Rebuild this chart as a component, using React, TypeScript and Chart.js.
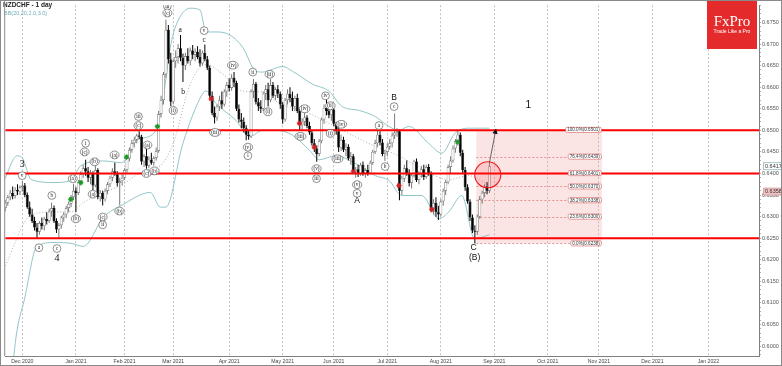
import React, { useEffect, useRef } from 'react';
import { Chart, registerables } from 'chart.js';

Chart.register(...registerables);

const SYMBOL_TITLE = 'NZDCHF - 1 day';
const INDICATOR_TITLE = 'BB(20,20,2.0,3.0)';

// Daily candles, one per trading day. Index 0 = 1 Dec 2020, first candle (index -7) = 20 Nov 2020.
// Prices are stored in 1/10000 units.
const FIRST_INDEX = -7;
const PRICE_UNIT = 10000;

const OPEN = [
  6320, 6332, 6345, 6355, 6348, 6362, 6358, 6368, 6372, 6350,
  6322, 6305, 6290, 6275, 6265, 6285, 6278, 6295, 6290, 6312,
  6320, 6290, 6270, 6280, 6298, 6305, 6320, 6330, 6345, 6360,
  6355, 6380, 6398, 6412, 6405, 6390, 6400, 6372, 6408, 6345,
  6355, 6340, 6360, 6375, 6390, 6405, 6398, 6378, 6382, 6390,
  6408, 6435, 6455, 6470, 6478, 6488, 6485, 6428, 6440, 6418,
  6432, 6425, 6436, 6452, 6538, 6570, 6630, 6733, 6664, 6566,
  6660, 6670, 6690, 6668, 6650, 6672, 6660, 6685, 6675, 6682,
  6670, 6655, 6680, 6665, 6645, 6580, 6540, 6530, 6555, 6570,
  6560, 6590, 6605, 6598, 6622, 6610, 6550, 6525, 6520, 6505,
  6490, 6486, 6590, 6608, 6565, 6555, 6550, 6585, 6595, 6570,
  6605, 6580, 6595, 6585, 6560, 6525, 6570, 6585, 6575, 6555,
  6575, 6545, 6512, 6520, 6530, 6510, 6495, 6470, 6458, 6445,
  6475, 6525, 6552, 6545, 6535, 6548, 6515, 6498, 6460, 6478,
  6455, 6462, 6435, 6440, 6405, 6410, 6398, 6420, 6400, 6408,
  6400, 6425, 6450, 6470, 6490, 6472, 6445, 6450, 6462, 6470,
  6488, 6495, 6498, 6360, 6388, 6412, 6400, 6378, 6395, 6428,
  6385, 6398, 6410, 6392, 6415, 6400, 6318, 6332, 6310, 6305,
  6335, 6360, 6380, 6415, 6430, 6458, 6475, 6490, 6448, 6408,
  6368, 6335, 6298, 6268, 6265, 6300, 6340, 6355, 6370, 6360,
];
const HIGH = [
  6338, 6350, 6362, 6370, 6368, 6375, 6372, 6383, 6378, 6356,
  6335, 6318, 6300, 6285, 6290, 6298, 6300, 6310, 6318, 6333,
  6326, 6296, 6285, 6302, 6310, 6325, 6335, 6350, 6376, 6368,
  6385, 6405, 6420, 6432, 6415, 6408, 6405, 6418, 6412, 6362,
  6360, 6365, 6380, 6395, 6412, 6425, 6405, 6390, 6398, 6412,
  6440, 6460, 6478, 6485, 6492, 6498, 6490, 6445, 6457, 6440,
  6448, 6440, 6460, 6545, 6580, 6635, 6756, 6744, 6680, 6665,
  6685, 6700, 6721, 6678, 6680, 6690, 6692, 6698, 6690, 6695,
  6688, 6685, 6699, 6672, 6650, 6590, 6555, 6560, 6580, 6590,
  6595, 6612, 6620, 6630, 6635, 6615, 6560, 6540, 6530, 6512,
  6500, 6595, 6619, 6612, 6575, 6570, 6590, 6605, 6610, 6619,
  6612, 6600, 6605, 6590, 6565, 6575, 6595, 6600, 6590, 6580,
  6585, 6550, 6528, 6540, 6535, 6520, 6500, 6480, 6465, 6480,
  6530, 6560, 6572, 6560, 6555, 6552, 6520, 6505, 6490, 6485,
  6470, 6468, 6450, 6445, 6415, 6420, 6425, 6428, 6412, 6420,
  6430, 6455, 6478, 6500, 6498, 6480, 6455, 6470, 6480, 6495,
  6539, 6505, 6502, 6395, 6420, 6430, 6410, 6400, 6432, 6435,
  6405, 6418, 6420, 6420, 6422, 6405, 6340, 6345, 6325, 6340,
  6365, 6385, 6420, 6440, 6465, 6480, 6500, 6495, 6455, 6415,
  6375, 6340, 6305, 6280, 6305, 6348, 6360, 6375, 6380, 6425,
];
const LOW = [
  6312, 6325, 6338, 6340, 6342, 6350, 6350, 6358, 6345, 6318,
  6300, 6285, 6268, 6250, 6258, 6270, 6268, 6282, 6285, 6300,
  6285, 6262, 6249, 6272, 6288, 6296, 6310, 6322, 6338, 6310,
  6350, 6372, 6390, 6395, 6380, 6375, 6361, 6368, 6340, 6335,
  6326, 6335, 6352, 6368, 6382, 6395, 6370, 6326, 6372, 6385,
  6402, 6428, 6448, 6460, 6470, 6480, 6420, 6415, 6411, 6412,
  6420, 6418, 6430, 6448, 6530, 6560, 6622, 6655, 6556, 6560,
  6645, 6655, 6660, 6612, 6640, 6655, 6650, 6665, 6660, 6665,
  6648, 6650, 6660, 6640, 6575, 6535, 6516, 6522, 6545, 6550,
  6555, 6578, 6590, 6592, 6600, 6545, 6518, 6505, 6495, 6477,
  6478, 6482, 6575, 6560, 6545, 6540, 6545, 6570, 6555, 6565,
  6575, 6570, 6575, 6550, 6515, 6520, 6560, 6565, 6545, 6545,
  6540, 6500, 6500, 6510, 6505, 6490, 6465, 6450, 6427, 6440,
  6470, 6515, 6535, 6528, 6522, 6510, 6490, 6450, 6452, 6450,
  6440, 6430, 6420, 6400, 6390, 6392, 6395, 6395, 6390, 6395,
  6398, 6420, 6445, 6462, 6465, 6440, 6429, 6440, 6455, 6460,
  6480, 6485, 6338, 6350, 6380, 6395, 6370, 6365, 6390, 6380,
  6375, 6390, 6385, 6388, 6395, 6310, 6305, 6300, 6292, 6300,
  6325, 6350, 6375, 6400, 6425, 6448, 6465, 6440, 6400, 6360,
  6330, 6290, 6262, 6238, 6258, 6295, 6330, 6345, 6352, 6355,
];
const CLOSE = [
  6332, 6345, 6355, 6348, 6362, 6358, 6368, 6372, 6350, 6322,
  6305, 6290, 6275, 6265, 6285, 6278, 6295, 6290, 6312, 6320,
  6290, 6270, 6280, 6298, 6305, 6320, 6330, 6345, 6360, 6355,
  6380, 6398, 6412, 6405, 6390, 6400, 6372, 6408, 6345, 6355,
  6340, 6360, 6375, 6390, 6405, 6398, 6378, 6382, 6390, 6408,
  6435, 6455, 6470, 6478, 6488, 6485, 6428, 6440, 6418, 6432,
  6425, 6436, 6452, 6538, 6570, 6630, 6733, 6664, 6566, 6660,
  6670, 6690, 6668, 6650, 6672, 6660, 6685, 6675, 6682, 6670,
  6655, 6680, 6665, 6645, 6580, 6540, 6530, 6555, 6570, 6560,
  6590, 6605, 6598, 6622, 6610, 6550, 6525, 6520, 6505, 6490,
  6486, 6590, 6608, 6565, 6555, 6550, 6585, 6595, 6570, 6605,
  6580, 6595, 6585, 6560, 6525, 6570, 6585, 6575, 6555, 6575,
  6545, 6512, 6520, 6530, 6510, 6495, 6470, 6458, 6445, 6475,
  6525, 6552, 6545, 6535, 6548, 6515, 6498, 6460, 6478, 6455,
  6462, 6435, 6440, 6405, 6410, 6398, 6420, 6400, 6408, 6400,
  6425, 6450, 6470, 6490, 6472, 6445, 6450, 6462, 6470, 6488,
  6495, 6498, 6360, 6388, 6412, 6400, 6378, 6395, 6428, 6385,
  6398, 6410, 6392, 6415, 6400, 6318, 6332, 6310, 6305, 6335,
  6360, 6380, 6415, 6430, 6458, 6475, 6490, 6448, 6408, 6368,
  6335, 6298, 6268, 6265, 6300, 6340, 6355, 6370, 6360, 6417,
];

// Bollinger bands (trading-day index, price)
const UPPER_IDX = [-7.5, -2.2, 0, 3.6, 13, 20, 24, 33.4, 40.8, 46.9, 55, 58, 60.8, 63.2, 69, 73, 75.5, 79.6, 85.3, 90.6, 96, 98.8, 107, 111, 119.3, 126, 131.5, 138.5, 145, 150.7, 154.8, 158.8, 167, 172.4, 177.8, 183.3, 192];
const UPPER_VAL = [0.6384, 0.6441, 0.6436, 0.6386, 0.6379, 0.6384, 0.6418, 0.6429, 0.6425, 0.6477, 0.65, 0.658, 0.6692, 0.6744, 0.6783, 0.6779, 0.6728, 0.6728, 0.6721, 0.6692, 0.6637, 0.6635, 0.6648, 0.6637, 0.6607, 0.6591, 0.6555, 0.6546, 0.6532, 0.6509, 0.65, 0.6509, 0.647, 0.6447, 0.6493, 0.6505, 0.6505];
const MID_IDX = [-7.5, 3.6, 13, 20, 25.2, 33.4, 40.4, 49.8, 56.7, 62, 69, 75.5, 82.5, 90.6, 98.8, 104, 118, 131.5, 145, 154.8, 167, 175.3, 183.4, 192];
const MID_VAL = [0.618, 0.6304, 0.6311, 0.6311, 0.6333, 0.6356, 0.6372, 0.6406, 0.6418, 0.647, 0.6607, 0.6653, 0.663, 0.6591, 0.6589, 0.6568, 0.6539, 0.65, 0.6463, 0.6441, 0.6402, 0.6386, 0.6395, 0.6372];
const LOWER_IDX = [-4.2, -2.2, 0.7, 6, 13, 20, 25, 33.4, 41, 52.6, 56.7, 59, 66, 74, 75.5, 79.6, 87.8, 93.5, 98.8, 104, 111, 118, 122.1, 128.7, 138.5, 145, 150.7, 156, 164.2, 171.2, 175.3, 180.6, 185.9, 192];
const LOWER_VAL = [0.5945, 0.6037, 0.6105, 0.6231, 0.624, 0.6238, 0.6231, 0.6299, 0.6327, 0.6356, 0.6322, 0.6322, 0.647, 0.6584, 0.6591, 0.6562, 0.6523, 0.6486, 0.65, 0.65, 0.6489, 0.6454, 0.6432, 0.6441, 0.6418, 0.6395, 0.6384, 0.6349, 0.6349, 0.6295, 0.6311, 0.6349, 0.6249, 0.6258];

// Horizontal support / resistance levels
const LEVEL_LINES = [0.65, 0.64, 0.625];

// Fibonacci retracement box
const FIB_START = 186.6;
const FIB_END = 238.2;
const FIB_PRICES = [0.6238, 0.63, 0.6338, 0.637, 0.6401, 0.6439, 0.6501];
const FIB_TEXT = ['0.0%(0.6238)', '23.6%(0.6300)', '38.2%(0.6338)', '50.0%(0.6370)', '61.8%(0.6401)', '76.4%(0.6439)', '100.0%(0.6501)'];

// Highlight circle and projection arrow (trading-day index, price)
const CIRCLE_AT = [191.3, 0.6397];
const ARROW_FROM = [192, 0.6425];
const ARROW_TO = [194.6, 0.6501];

// Price tags on the right axis
const PRICE_TAGS = [0.6417, 0.6358];

// Signal markers
const GREEN_IDX = [19.9, 24, 42.8, 55.5, 178.9];
const GREEN_VAL = [0.634, 0.6379, 0.6438, 0.6509, 0.6473];
const RED_IDX = [77.6, 113.9, 120, 136, 154.8, 168.3];
const RED_VAL = [0.6573, 0.6516, 0.6461, 0.6404, 0.6372, 0.6317];

// Wave labels
const PLAIN_TEXT = ['3', '4', 'a', 'b', 'c', 'A', 'B', 'C', '(B)', '1'];
const PLAIN_IDX = [-0.1, 14.2, 64.9, 66.1, 74.7, 137.6, 152.8, 185.5, 185.9, 208];
const PLAIN_VAL = [0.642, 0.6203, 0.6733, 0.6589, 0.671, 0.6336, 0.6575, 0.6228, 0.6205, 0.6557];

const CIRCLED_TEXT = ['v', 'a', 'b', 'c', '(a)', '(b)', 'i', '(c)', '(b)', '(a)', '(c)', 'ii', '(a)', '(b)', 'iii', '(c)', '(a)', '(c)', '(b)', 'iii', '(c)', '(i)', 'v', '(iii)', '(iv)', '(v)', 'i', 'ii', '(ii)', '(i)', '(iv)', '(iii)', '(v)', 'iii', 'iv', '(ii)', '(i)', '(iv)', '(iii)', '(v)', 'v', 'a', 'b', 'c'];
const CIRCLED_IDX = [-0.1, 6.8, 12.1, 14.2, 20.7, 22, 26, 25.6, 29.7, 28.9, 33, 33, 37.9, 39.9, 47.7, 47.7, 51.4, 51, 54.3, 59.6, 59.6, 62, 74.7, 79.2, 86.5, 92.7, 92.7, 94.7, 101.7, 100.9, 116, 114.3, 120.9, 120.9, 124.6, 126.6, 126.6, 131.1, 129.5, 137.6, 137.6, 146.6, 149.1, 152.8];
const CIRCLED_VAL = [0.6395, 0.6228, 0.6349, 0.6226, 0.6388, 0.6295, 0.647, 0.645, 0.6427, 0.6352, 0.6299, 0.6281, 0.6443, 0.6313, 0.6532, 0.6511, 0.6466, 0.64, 0.6406, 0.6788, 0.6772, 0.6546, 0.6731, 0.6495, 0.6651, 0.6461, 0.6441, 0.6635, 0.663, 0.6543, 0.655, 0.6486, 0.6411, 0.6388, 0.658, 0.6557, 0.6493, 0.6514, 0.6434, 0.6374, 0.6354, 0.6511, 0.6416, 0.6555];

// Axis ranges
const X_MIN = -7.07;
const X_MAX = 302.8;
const Y_MIN = 0.5977;
const Y_MAX = 0.679;

const MONTH_NAMES = ['Jan', 'Feb', 'Mar', 'Apr', 'May', 'Jun', 'Jul', 'Aug', 'Sep', 'Oct', 'Nov', 'Dec'];

function buildMonthTicks(): { idx: number; label: string }[] {
  const res: { idx: number; label: string }[] = [];
  const d = new Date(Date.UTC(2020, 10, 20));
  let idx = FIRST_INDEX;
  let prevMonth = d.getUTCMonth();
  while (idx <= X_MAX) {
    const dow = d.getUTCDay();
    const m = d.getUTCMonth();
    const day = d.getUTCDate();
    const trading = dow !== 0 && dow !== 6 && !(m === 11 && day === 25) && !(m === 0 && day === 1);
    if (trading) {
      if (m !== prevMonth) {
        res.push({ idx, label: `${MONTH_NAMES[m]} ${d.getUTCFullYear()}` });
        prevMonth = m;
      }
      idx++;
    }
    d.setUTCDate(d.getUTCDate() + 1);
  }
  return res;
}

const MONTH_TICKS = buildMonthTicks();

const SANS = '"Liberation Sans", Arial, sans-serif';
const SERIF = '"Liberation Serif", "Times New Roman", serif';

const overlayPlugin = {
  id: 'overlay',
  beforeDatasetsDraw(chart: any) {
    const { ctx, chartArea, scales } = chart;
    const x = scales.x;
    const y = scales.y;
    ctx.save();
    ctx.beginPath();
    ctx.rect(chartArea.left, chartArea.top, chartArea.right - chartArea.left, chartArea.bottom - chartArea.top);
    ctx.clip();
    const x0 = x.getPixelForValue(FIB_START);
    const x1 = x.getPixelForValue(FIB_END);
    const yTop = y.getPixelForValue(FIB_PRICES[FIB_PRICES.length - 1]);
    const yBot = y.getPixelForValue(FIB_PRICES[0]);
    ctx.fillStyle = 'rgba(236, 150, 150, 0.26)';
    ctx.fillRect(x0, yTop, x1 - x0, yBot - yTop);
    ctx.strokeStyle = 'rgba(215, 90, 90, 0.75)';
    ctx.lineWidth = 0.8;
    ctx.setLineDash([2, 2]);
    FIB_PRICES.forEach((p) => {
      const py = Math.round(y.getPixelForValue(p)) + 0.5;
      ctx.beginPath();
      ctx.moveTo(x0, py);
      ctx.lineTo(x1, py);
      ctx.stroke();
    });
    ctx.restore();
  },
  afterDatasetsDraw(chart: any) {
    const { ctx, chartArea, scales } = chart;
    const x = scales.x;
    const y = scales.y;
    ctx.save();
    ctx.beginPath();
    ctx.rect(chartArea.left, chartArea.top, chartArea.right - chartArea.left, chartArea.bottom - chartArea.top);
    ctx.clip();

    // highlight circle
    const cx = x.getPixelForValue(CIRCLE_AT[0]);
    const cy = y.getPixelForValue(CIRCLE_AT[1]);
    ctx.beginPath();
    ctx.arc(cx, cy, 13, 0, Math.PI * 2);
    ctx.fillStyle = 'rgba(255, 60, 60, 0.16)';
    ctx.fill();
    ctx.strokeStyle = '#ee2020';
    ctx.lineWidth = 1.2;
    ctx.stroke();

    // arrow
    const ax0 = x.getPixelForValue(ARROW_FROM[0]);
    const ay0 = y.getPixelForValue(ARROW_FROM[1]);
    const ax1 = x.getPixelForValue(ARROW_TO[0]);
    const ay1 = y.getPixelForValue(ARROW_TO[1]);
    ctx.strokeStyle = '#444';
    ctx.lineWidth = 0.8;
    ctx.beginPath();
    ctx.moveTo(ax0, ay0);
    ctx.lineTo(ax1, ay1);
    ctx.stroke();
    const ang = Math.atan2(ay1 - ay0, ax1 - ax0);
    ctx.fillStyle = '#111';
    ctx.beginPath();
    ctx.moveTo(ax1 + Math.cos(ang) * 1.5, ay1 + Math.sin(ang) * 1.5);
    ctx.lineTo(ax1 - Math.cos(ang) * 4 - Math.sin(ang) * 2.6, ay1 - Math.sin(ang) * 4 + Math.cos(ang) * 2.6);
    ctx.lineTo(ax1 - Math.cos(ang) * 4 + Math.sin(ang) * 2.6, ay1 - Math.sin(ang) * 4 - Math.cos(ang) * 2.6);
    ctx.closePath();
    ctx.fill();

    // fib labels
    const fx1 = x.getPixelForValue(FIB_END);
    ctx.font = `4.6px ${SANS}`;
    ctx.textBaseline = 'middle';
    ctx.textAlign = 'center';
    FIB_PRICES.forEach((p, i) => {
      const py = y.getPixelForValue(p);
      const w = ctx.measureText(FIB_TEXT[i]).width + 3;
      const bx = fx1 - w - 0.5;
      const by = py - 2.6;
      ctx.beginPath();
      if (ctx.roundRect) ctx.roundRect(bx, by, w, 5.2, 1.5);
      else ctx.rect(bx, by, w, 5.2);
      ctx.fillStyle = '#ffffff';
      ctx.fill();
      ctx.strokeStyle = '#d86060';
      ctx.lineWidth = 0.6;
      ctx.stroke();
      ctx.fillStyle = '#333';
      ctx.fillText(FIB_TEXT[i], bx + w / 2, py + 0.2);
    });

    // plain wave labels
    PLAIN_TEXT.forEach((t, i) => {
      const px = x.getPixelForValue(PLAIN_IDX[i]);
      const py = y.getPixelForValue(PLAIN_VAL[i]);
      const serif = /^[0-9a-z]$/.test(t) && t !== '1';
      const big = /^[0-9]$/.test(t);
      const size = big ? 10 : serif ? 7.5 : 8.5;
      ctx.font = `${size}px ${serif ? SERIF : SANS}`;
      ctx.fillStyle = '#111';
      ctx.textAlign = 'center';
      ctx.textBaseline = 'middle';
      ctx.fillText(t, px, py);
    });

    // circled wave labels
    CIRCLED_TEXT.forEach((t, i) => {
      const px = x.getPixelForValue(CIRCLED_IDX[i]);
      const py = y.getPixelForValue(CIRCLED_VAL[i]);
      ctx.font = `5.2px ${SERIF}`;
      const w = ctx.measureText(t).width;
      const rx = Math.max(3.9, w / 2 + 1.6);
      ctx.beginPath();
      ctx.ellipse(px, py, rx, 3.9, 0, 0, Math.PI * 2);
      ctx.fillStyle = '#ffffff';
      ctx.fill();
      ctx.strokeStyle = '#444';
      ctx.lineWidth = 0.6;
      ctx.stroke();
      ctx.fillStyle = '#111';
      ctx.textAlign = 'center';
      ctx.textBaseline = 'middle';
      ctx.fillText(t, px, py + 0.3);
    });
    ctx.restore();
  },
  afterDraw(chart: any) {
    const { ctx, chartArea, scales, width, height } = chart;
    const y = scales.y;
    ctx.save();

    // header texts
    ctx.textAlign = 'left';
    ctx.textBaseline = 'middle';
    ctx.font = `bold 6.5px ${SANS}`;
    ctx.fillStyle = '#222';
    ctx.fillText(SYMBOL_TITLE, 3, 5);
    ctx.font = `5.5px ${SANS}`;
    ctx.fillStyle = '#6fb0b5';
    ctx.fillText(INDICATOR_TITLE, 4, 13);

    // price tags on the axis
    PRICE_TAGS.forEach((p, i) => {
      const py = y.getPixelForValue(p);
      const bx = chartArea.right + 4;
      const bw = width - bx - 1;
      ctx.beginPath();
      ctx.rect(bx + 0.5, py - 3.5, bw, 7);
      ctx.fillStyle = i === 0 ? '#ffffff' : '#f2c4c4';
      ctx.fill();
      ctx.strokeStyle = i === 0 ? '#7fa9ad' : '#cc8c8c';
      ctx.lineWidth = 0.7;
      ctx.stroke();
      ctx.fillStyle = '#333';
      ctx.font = `5.5px ${SANS}`;
      ctx.textAlign = 'left';
      ctx.fillText(p.toFixed(4), bx + 2, py + 0.3);
    });

    // logo
    ctx.fillStyle = '#e42a2a';
    ctx.fillRect(707, 0, 50, 49);
    ctx.fillStyle = '#ffffff';
    ctx.textAlign = 'center';
    ctx.font = `15px ${SERIF}`;
    ctx.fillText('FxPro', 732, 22);
    ctx.font = `5px ${SANS}`;
    ctx.fillText('Trade Like a Pro', 732, 32);

    // frame
    ctx.strokeStyle = '#8a8a8a';
    ctx.lineWidth = 1;
    ctx.strokeRect(0.5, 0.5, width - 1, height - 1);
    ctx.beginPath();
    ctx.moveTo(chartArea.left - 0.5, 0);
    ctx.lineTo(chartArea.left - 0.5, chartArea.bottom);
    ctx.stroke();
    ctx.restore();
  },
};

export default function App() {
  const ref = useRef<HTMLCanvasElement>(null);

  useEffect(() => {
    const canvas = ref.current;
    if (!canvas) return;

    const idx = OPEN.map((_, i) => FIRST_INDEX + i);
    const up = OPEN.map((o, i) => CLOSE[i] >= o);

    const wickData = idx.map((v, i) => ({ x: v, y: [LOW[i] / PRICE_UNIT, HIGH[i] / PRICE_UNIT] }));
    const bodyData = idx.map((v, i) => ({ x: v, y: [OPEN[i] / PRICE_UNIT, CLOSE[i] / PRICE_UNIT] }));

    const band = (xs: number[], vs: number[]) => xs.map((v, i) => ({ x: v, y: vs[i] }));

    const datasets: any[] = [
      {
        type: 'line', data: band(UPPER_IDX, UPPER_VAL), borderColor: '#86bfc3', borderWidth: 0.9,
        pointRadius: 0, cubicInterpolationMode: 'monotone', order: 8,
      },
      {
        type: 'line', data: band(MID_IDX, MID_VAL), borderColor: '#9a9a9a', borderWidth: 0.8,
        borderDash: [1, 2], pointRadius: 0, cubicInterpolationMode: 'monotone', order: 8,
      },
      {
        type: 'line', data: band(LOWER_IDX, LOWER_VAL), borderColor: '#86bfc3', borderWidth: 0.9,
        pointRadius: 0, cubicInterpolationMode: 'monotone', order: 8,
      },
      {
        type: 'bar', data: wickData, barThickness: 1, grouped: false, inflateAmount: 0,
        backgroundColor: up.map((u) => (u ? '#7a7a7a' : '#000000')), borderWidth: 0, order: 6,
      },
      {
        type: 'bar', data: bodyData, barThickness: 3, grouped: false, borderSkipped: false, inflateAmount: 0,
        backgroundColor: up.map((u) => (u ? '#ffffff' : '#000000')),
        borderColor: up.map((u) => (u ? '#6e6e6e' : '#000000')),
        borderWidth: 0.7, order: 5,
      },
      ...LEVEL_LINES.map((p) => ({
        type: 'line', data: [{ x: X_MIN, y: p }, { x: X_MAX, y: p }], borderColor: '#ff0000',
        borderWidth: 2, pointRadius: 0, order: 2,
      })),
      {
        type: 'line', data: band(GREEN_IDX, GREEN_VAL), showLine: false, pointStyle: 'star',
        pointRadius: 2.6, borderColor: '#1e9a2a', backgroundColor: '#1e9a2a', pointBorderWidth: 1.2, order: 1,
      },
      {
        type: 'line', data: band(RED_IDX, RED_VAL), showLine: false, pointStyle: 'star',
        pointRadius: 2.6, borderColor: '#d42020', backgroundColor: '#d42020', pointBorderWidth: 1.2, order: 1,
      },
    ];

    const monthLabel = new Map(MONTH_TICKS.map((t) => [t.idx, t.label]));

    const chart = new Chart(canvas, {
      type: 'bar',
      data: { datasets },
      options: {
        animation: false,
        responsive: false,
        maintainAspectRatio: false,
        events: [],
        layout: { padding: { left: 1, top: 0, right: 0, bottom: 0 } },
        plugins: { legend: { display: false }, tooltip: { enabled: false } },
        scales: {
          x: {
            type: 'linear',
            min: X_MIN,
            max: X_MAX,
            offset: false,
            afterBuildTicks: (s: any) => {
              s.ticks = MONTH_TICKS.map((t) => ({ value: t.idx }));
            },
            afterFit: (s: any) => {
              s.height = 10;
              s.paddingLeft = 0;
              s.paddingRight = 0;
            },
            ticks: {
              autoSkip: false,
              maxRotation: 0,
              padding: 2,
              color: '#444',
              font: { size: 5.2, family: SANS },
              callback: (v: any) => monthLabel.get(v) ?? '',
            },
            grid: { offset: false, color: '#a9a9a9', lineWidth: 0.7, drawTicks: false },
            border: { display: true, dash: [2, 2], color: '#808080', width: 1 },
          },
          y: {
            type: 'linear',
            position: 'right',
            min: Y_MIN,
            max: Y_MAX,
            afterBuildTicks: (s: any) => {
              const t: { value: number }[] = [];
              for (let k = 598; k <= 679; k++) t.push({ value: k / 1000 });
              s.ticks = t;
            },
            afterFit: (s: any) => {
              s.width = 23;
              s.paddingTop = 0;
              s.paddingBottom = 0;
            },
            ticks: {
              autoSkip: false,
              padding: 1,
              color: '#555',
              font: { size: 5.5, family: SANS },
              callback: (v: any) => {
                const k = Math.round(v * 1000);
                return k % 5 === 0 ? (k / 1000).toFixed(4) : '';
              },
            },
            grid: { drawOnChartArea: false, drawTicks: true, tickLength: 2, color: '#777', lineWidth: 0.6 },
            border: { display: true, color: '#808080', width: 1 },
          },
        },
      } as any,
      plugins: [overlayPlugin],
    });

    return () => chart.destroy();
  }, []);

  return (
    <div style={{ position: 'fixed', left: 0, top: 0, width: 782, height: 366, background: '#ffffff' }}>
      <canvas ref={ref} width={782} height={366} style={{ display: 'block', width: 782, height: 366 }} />
    </div>
  );
}
